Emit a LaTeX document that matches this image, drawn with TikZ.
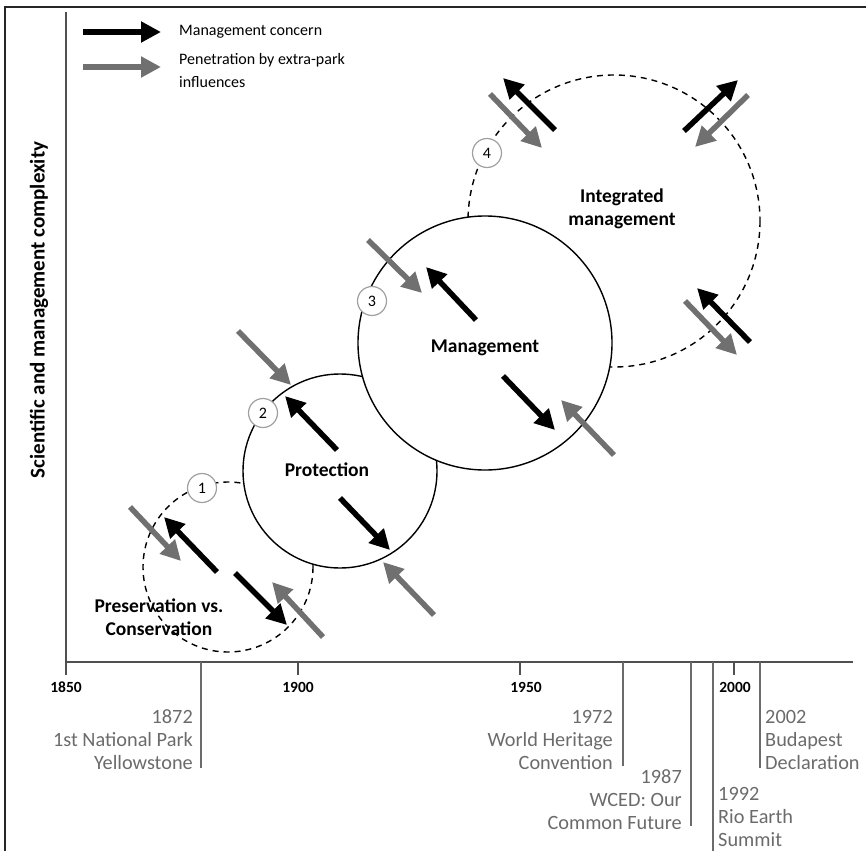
\documentclass[tikz,border=0pt]{standalone}
\usepackage{fontspec}
\setmainfont{Carlito}
\usetikzlibrary{arrows.meta}
\definecolor{arrgray}{HTML}{707070}
\definecolor{txtgray}{HTML}{6B6B6B}
\definecolor{numgray}{HTML}{A0A0A0}
\definecolor{axgray}{HTML}{505050}
\tikzset{
 blk/.style={line width=5.5pt, black, -{Triangle[length=20pt,width=20pt]}},
 gry/.style={line width=5.5pt, arrgray, -{Triangle[length=20pt,width=20pt]}},
 dcirc/.style={draw=black, line width=1.4pt, dash pattern=on 6pt off 5pt},
 scirc/.style={draw=black, line width=1.4pt, fill=white},
 num/.style={circle, draw=numgray, line width=1.2pt, fill=white, minimum size=29pt, inner sep=0pt, font=\fontsize{16}{16}\selectfont},
 lbl/.style={font=\bfseries\fontsize{19.5}{23}\selectfont, align=center, inner sep=0pt},
 evt/.style={font=\fontsize{20.3}{23}\selectfont, text=txtgray, inner sep=0pt},
 evtline/.style={draw=txtgray, line width=1.5pt},
 yr/.style={font=\bfseries\fontsize{15.5}{15.5}\selectfont, inner sep=0pt},
 leg/.style={font=\fontsize{16}{23.5}\selectfont, align=left, inner sep=0pt, anchor=west},
}
\begin{document}
\begin{tikzpicture}[x=1pt,y=-1pt]
\useasboundingbox (0,0) rectangle (866,850);
% frame
\draw[line width=2pt, black!85] (5,851) -- (5,7) -- (867,7);
% axes
\draw[line width=2pt, axgray] (66,12) -- (66,675);
\draw[line width=2pt, axgray] (66,662) -- (853,662);
\foreach \x in {298,520,734} \draw[line width=2pt, axgray] (\x,662) -- (\x,675);
\node[yr] (y1850) at (66,687) {1850};
\node[yr] (y1900) at (298,687) {1900};
\node[yr] (y1950) at (526,687) {1950};
\node[yr] (y2000) at (735,687) {2000};
% y label
\node[rotate=90, font=\bfseries\fontsize{21}{24}\selectfont, inner sep=0pt] (ylab) at (39,310) {Scientific and management complexity};
% legend
\draw[blk] (83,32) -- (161,32);
\draw[gry] (83,67) -- (161,67);
\node[leg] (leg1) at (179,32) {Management concern};
\node[leg, anchor=north west] (leg2) at (179,53) {Penetration by extra-park\\influences};
% circles
\draw[dcirc] (228,567) circle[radius=85];
\draw[dcirc] (614,221) circle[radius=146];
\draw[scirc] (340,471) circle[radius=97];
\draw[scirc] (485,343) circle[radius=127];
% number circles
\node[num] (n1) at (202,488) {1};
\node[num] (n2) at (263,413) {2};
\node[num] (n3) at (372,301) {3};
\node[num] (n4) at (487,153) {4};
% labels
\node[lbl] (l1) at (159,617) {Preservation vs.\\Conservation};
\node[lbl] (l2) at (327,470) {Protection};
\node[lbl] (l3) at (485,348) {Management};
\node[lbl] (l4) at (622,209) {Integrated\\management};
% arrows circle 1
\draw[gry] (130,507) -- (181,561);
\draw[blk] (217,572) -- (164,517);
\draw[blk] (235,573) -- (287,625);
\draw[gry] (323,637) -- (272,582);
% circle 2
\draw[gry] (238,331) -- (291,385);
\draw[blk] (337,450) -- (285,396);
\draw[blk] (340,498) -- (390,550);
\draw[gry] (434,615) -- (383,562);
% circle 3
\draw[gry] (368,240) -- (422,293);
\draw[blk] (476,320) -- (426,267);
\draw[blk] (503,376) -- (555,430);
\draw[gry] (614,455) -- (561,400);
% circle 4
\draw[blk] (555,130) -- (503,78);
\draw[gry] (490,94) -- (542,148);
\draw[blk] (684,131) -- (738,80);
\draw[gry] (748,95) -- (695,147);
\draw[blk] (750,342) -- (697,288);
\draw[gry] (685,301) -- (737,355);
% event lines
\draw[evtline] (201,662) -- (201,768);
\draw[evtline] (623,662) -- (623,766);
\draw[evtline] (691,662) -- (691,826);
\draw[evtline] (713,662) -- (713,851);
\draw[evtline] (760,662) -- (760,768);
\node[evt, align=right, anchor=north east] (e1872) at (193,709) {1872\\1st National Park\\Yellowstone};
\node[evt, align=right, anchor=north east] (e1972) at (613,710) {1972\\World Heritage\\Convention};
\node[evt, align=right, anchor=north east] (e1987) at (682,769) {1987\\WCED: Our\\Common Future};
\node[evt, align=left, anchor=north west] (e1992) at (718,787) {1992\\Rio Earth\\Summit};
\node[evt, align=left, anchor=north west] (e2002) at (765,710) {2002\\Budapest\\Declaration};
\end{tikzpicture}
\end{document}
